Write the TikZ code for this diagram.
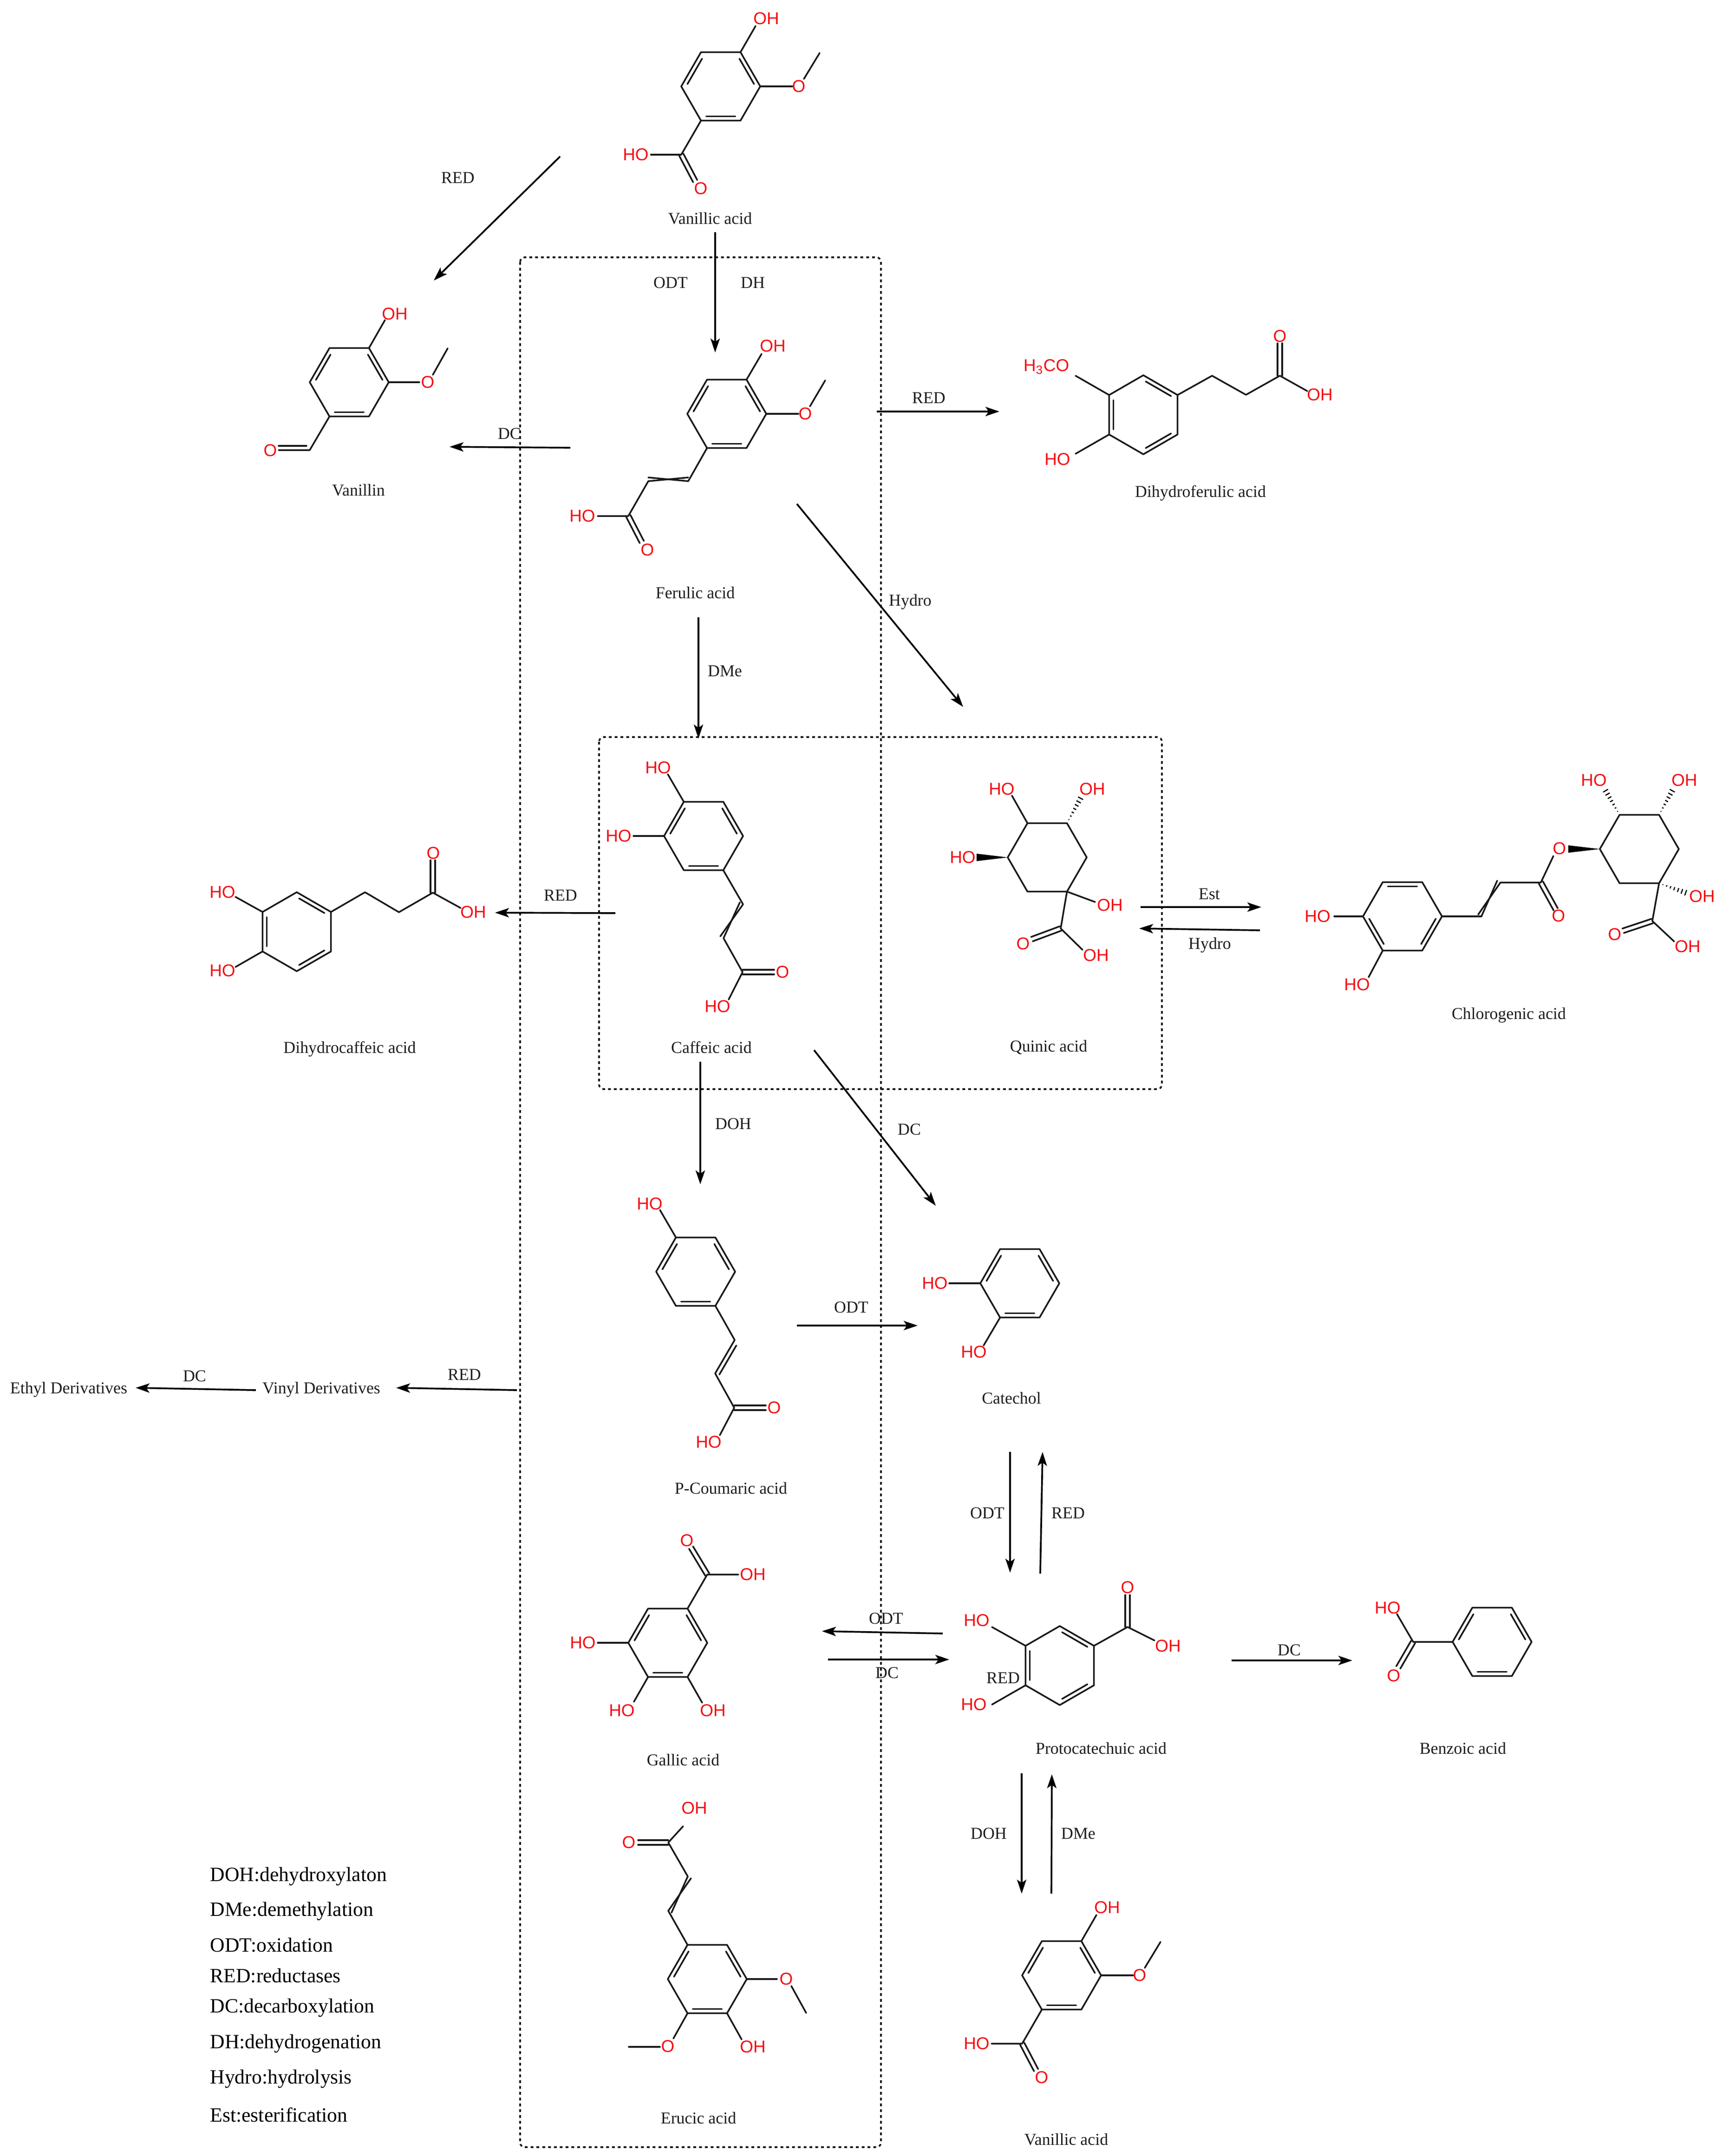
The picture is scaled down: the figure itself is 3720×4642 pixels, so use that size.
\documentclass[tikz,border=0pt]{standalone}
\usepackage{fontspec}
\setmainfont{Liberation Serif}
\newfontfamily\atomfam{Liberation Sans}
\usetikzlibrary{calc,arrows.meta}
\definecolor{atomred}{RGB}{245,15,20}
\definecolor{inkc}{RGB}{30,30,30}
\tikzset{
  bond/.style={line width=1pt,line cap=round,line join=round,draw=black!90},
  rxn/.style={line width=1.05pt,draw=black,-{Stealth[length=0.3cm,width=0.2cm,inset=0.07cm]}},
  dotbox/.style={line width=1.05pt,draw=black!90,dash pattern=on 0.06cm off 0.065cm,rounded corners=0.1cm},
  atom/.style={font=\atomfam\fontsize{10.5}{12}\selectfont,text=atomred,inner sep=0pt},
  cname/.style={font=\fontsize{10.2}{12}\selectfont,text=inkc,inner sep=0pt,text height=7.7pt,text depth=1pt},
  rlabel/.style={font=\fontsize{10.2}{12}\selectfont,text=inkc,inner sep=0pt,text height=7.7pt,text depth=1pt},
  legend/.style={font=\fontsize{12.4}{14}\selectfont,text=black,inner sep=0pt,anchor=base west}
}
% ring: name, centre, rotation
\newcommand\hexa[3]{%
  \foreach \k in {0,...,5}{\coordinate (#1\k) at ($(#2)+(#3+60*\k:0.85cm)$);}
  \draw[bond] (#10)--(#11)--(#12)--(#13)--(#14)--(#15)--cycle;}
% inner lines of the ring's double bonds
\newcommand\rdb[2]{%
  \foreach \e in {#2}{\pgfmathtruncatemacro\nn{mod(\e+1,6)}
  \draw[bond] ($(#1\e)!.13!(#1\nn)!0.09cm!90:(#1\nn)$) -- ($(#1\nn)!.13!(#1\e)!0.09cm!-90:(#1\e)$);}}
% symmetric double bond
\newcommand\sdb[2]{%
  \draw[bond] ($(#1)!0.05cm!90:(#2)$)--($(#2)!0.05cm!-90:(#1)$);
  \draw[bond] ($(#1)!0.05cm!-90:(#2)$)--($(#2)!0.05cm!90:(#1)$);}
% crossed (either) double bond
\newcommand\eith[3]{%
  \draw[bond] (#1)--($(#2)!0.08cm!#3:(#1)$);
  \draw[bond] ($(#1)!0.08cm!-#3:(#2)$)--(#2);}
% plain double bond with offset second line
\newcommand\dbo[2]{%
  \draw[bond] (#1)--(#2);
  \draw[bond] ($(#1)!.1!(#2)!0.09cm!90:(#2)$)--($(#2)!.03!(#1)!0.09cm!-90:(#1)$);}
% solid wedge from narrow end a to wide end b
\newcommand\wedgeb[2]{%
  \fill[black] (#1)--($(#2)!0.08cm!90:(#1)$)--($(#2)!0.08cm!-90:(#1)$)--cycle;}
% hashed wedge
\newcommand\hashb[2]{%
  \foreach \i in {1,...,8}{\pgfmathsetmacro\ff{\i/8}\pgfmathsetmacro\hw{\ff*0.07}
  \draw[line width=0.7pt,draw=black] ($(#1)!\ff!(#2)!\hw cm!90:(#2)$)--($(#1)!\ff!(#2)!\hw cm!-90:(#2)$);}}
% reaction arrow between two named coordinates
\newcommand\rx[3]{%
  \coordinate (#1s) at (#2); \coordinate (#1e) at (#3);
  \draw[rxn] (#1s)--(#1e);}
% vanillic acid structure
\newcommand\vanil[1]{%
  \hexa{#1}{1552,186}{0}\rdb{#1}{0,2,4}
  \draw[bond] (#11)--(1627,56);
  \node[atom] (#1OH) at (1650,40) {OH};
  \draw[bond] (#10)--(1706,186);
  \node[atom] (#1Om) at (1720,186) {O};
  \draw[bond] (1731,170)--(1765,114);
  \coordinate (#1C) at (1467,333);
  \draw[bond] (#14)--(#1C)--(1401,333);
  \node[atom] (#1HO) at (1369,333) {HO};
  \coordinate (#1Oe) at (1497,390);
  \sdb{#1C}{#1Oe}
  \node[atom] (#1Oc) at (1509,406) {O};}
\begin{document}
\begin{tikzpicture}[x=0.01cm,y=-0.01cm]
\useasboundingbox (0,0) rectangle (3720,4642);
\fill[white] (0,0) rectangle (3720,4642);
% dotted boxes
\draw[dotbox] (1120,554) rectangle (1897,4623);
\draw[dotbox] (1290,1587) rectangle (2502,2345);

% ---- Vanillic acid (top)
\vanil{va}
\node[cname] (nva) at (1529,471) {Vanillic acid};

% ---- Vanillic acid (bottom)
\begin{scope}[shift={(734,4067)}]
\vanil{vb}
\end{scope}
\node[cname] (nvb) at (2296,4607) {Vanillic acid};

% ---- Vanillin
\hexa{vn}{752,823}{0}\rdb{vn}{0,2,4}
\draw[bond] (vn1)--(829,689);
\node[atom] (vnOH) at (850,676) {OH};
\draw[bond] (vn0)--(903,823);
\node[atom] (vnO) at (921,823) {O};
\draw[bond] (932,807)--(964,750);
\coordinate (vnC) at (667,969);
\draw[bond] (vn4)--(vnC)--(600,969);
\draw[bond] (660,960)--(600,960);
\node[atom] (vnOc) at (582,970) {O};
\node[cname] (nvn) at (772,1056) {Vanillin};

% ---- Ferulic acid
\hexa{fa}{1565,891}{0}\rdb{fa}{0,2,4}
\draw[bond] (fa1)--(1640,762);
\node[atom] (faOH) at (1664,745) {OH};
\draw[bond] (fa0)--(1719,891);
\node[atom] (faO) at (1734,891) {O};
\draw[bond] (1744,875)--(1777,819);
\coordinate (fa7) at (1482,1036);
\coordinate (fa8) at (1396,1036);
\coordinate (faC) at (1353,1111);
\draw[bond] (fa4)--(fa7);
\eith{fa7}{fa8}{90}
\draw[bond] (fa8)--(faC)--(1287,1111);
\node[atom] (faHO) at (1254,1111) {HO};
\coordinate (faOe) at (1382,1167);
\sdb{faC}{faOe}
\node[atom] (faOc) at (1394,1184) {O};
\node[cname] (nfa) at (1497,1277) {Ferulic acid};

% ---- Dihydroferulic acid
\hexa{df}{2462,893}{30}\rdb{df}{0,2,4}
\draw[bond] (df2)--(2316,809);
\node[atom,anchor=east] (dfMe) at (2303,790) {H\textsubscript{3}CO};
\draw[bond] (df3)--(2316,977);
\node[atom] (dfHO) at (2277,989) {HO};
\coordinate (dfC) at (2756,809);
\draw[bond] (df0)--(2610,809)--(2683,850)--(dfC)--(2815,842);
\coordinate (dfOe) at (2756,739);
\sdb{dfC}{dfOe}
\node[atom] (dfO) at (2756,724) {O};
\node[atom] (dfOH) at (2842,850) {OH};
\node[cname] (ndf) at (2585,1059) {Dihydroferulic acid};

% ---- Caffeic acid
\hexa{ca}{1515,1800}{0}\rdb{ca}{0,2,4}
\draw[bond] (ca2)--(1438,1667);
\node[atom] (caHOa) at (1417,1653) {HO};
\draw[bond] (ca3)--(1364,1800);
\node[atom] (caHOb) at (1332,1800) {HO};
\coordinate (ca7) at (1600,1947);
\coordinate (ca8) at (1558,2020);
\coordinate (caC) at (1599,2093);
\draw[bond] (ca5)--(ca7);
\eith{ca7}{ca8}{90}
\draw[bond] (ca8)--(caC)--(1569,2152);
\coordinate (caOe) at (1667,2093);
\sdb{caC}{caOe}
\node[atom] (caO) at (1685,2093) {O};
\node[atom] (caHO) at (1545,2167) {HO};
\node[cname] (nca) at (1532,2256) {Caffeic acid};

% ---- Dihydrocaffeic acid
\hexa{dc}{639,2006}{30}\rdb{dc}{0,2,4}
\draw[bond] (dc2)--(507,1931);
\node[atom] (dcHOa) at (479,1921) {HO};
\draw[bond] (dc3)--(507,2082);
\node[atom] (dcHOb) at (479,2090) {HO};
\coordinate (dcC) at (932,1922);
\draw[bond] (dc0)--(786,1921)--(859,1964)--(dcC)--(992,1955);
\coordinate (dcOe) at (932,1852);
\sdb{dcC}{dcOe}
\node[atom] (dcO) at (933,1837) {O};
\node[atom] (dcOH) at (1019,1964) {OH};
\node[cname] (ndc) at (753,2256) {Dihydrocaffeic acid};

% ---- Quinic acid
\hexa{qa}{2255,1846}{0}
\draw[bond] (qa2)--(2179,1713);
\node[atom] (qaHOa) at (2157,1699) {HO};
\hashb{qa1}{2331,1711}
\node[atom] (qaOHa) at (2352,1699) {OH};
\wedgeb{qa3}{2103,1846}
\node[atom] (qaHOb) at (2073,1846) {HO};
\draw[bond] (qa5)--(2358,1942);
\node[atom] (qaOHb) at (2390,1949) {OH};
\coordinate (qaC) at (2284,1999);
\coordinate (qaOe) at (2222,2022);
\draw[bond] (qa5)--(qaC)--(2331,2045);
\sdb{qaC}{qaOe}
\node[atom] (qaO) at (2203,2032) {O};
\node[atom] (qaOHc) at (2360,2057) {OH};
\node[cname] (nqa) at (2258,2253) {Quinic acid};

% ---- Chlorogenic acid
\hexa{cl}{3020,1973}{0}\rdb{cl}{1,3,5}
\draw[bond] (cl3)--(2873,1973);
\node[atom] (clHOa) at (2837,1973) {HO};
\draw[bond] (cl4)--(2947,2104);
\node[atom] (clHOb) at (2922,2120) {HO};
\coordinate (cl7) at (3190,1973);
\coordinate (cl8) at (3231,1900);
\coordinate (clE) at (3318,1900);
\draw[bond] (cl0)--(cl7);
\eith{cl7}{cl8}{-90}
\draw[bond] (cl8)--(clE)--(3345,1843);
\coordinate (clEe) at (3350,1958);
\sdb{clE}{clEe}
\node[atom] (clOc) at (3356,1972) {O};
\node[atom] (clOe) at (3358,1827) {O};
\hexa{cr}{3530,1828}{0}
\wedgeb{cr3}{3377,1828}
\hashb{cr2}{3453,1695}
\node[atom] (crHOa) at (3432,1680) {HO};
\hashb{cr1}{3605,1695}
\node[atom] (crOHa) at (3627,1680) {OH};
\hashb{cr5}{3638,1925}
\node[atom] (crOHb) at (3665,1930) {OH};
\coordinate (crC) at (3558,1983);
\coordinate (crOe) at (3495,2004);
\draw[bond] (cr5)--(crC)--(3605,2027);
\sdb{crC}{crOe}
\node[atom] (crO) at (3477,2012) {O};
\node[atom] (crOHc) at (3634,2038) {OH};
\node[cname] (ncl) at (3249,2183) {Chlorogenic acid};

% ---- P-Coumaric acid
\hexa{pc}{1498,2738}{0}\rdb{pc}{0,2,4}
\draw[bond] (pc2)--(1421,2605);
\node[atom] (pcHOa) at (1399,2592) {HO};
\coordinate (pc7) at (1582,2885);
\coordinate (pc8) at (1540,2957);
\coordinate (pcC) at (1581,3031);
\draw[bond] (pc5)--(pc7);
\dbo{pc7}{pc8}
\draw[bond] (pc8)--(pcC)--(1550,3090);
\coordinate (pcOe) at (1649,3031);
\sdb{pcC}{pcOe}
\node[atom] (pcO) at (1667,3031) {O};
\node[atom] (pcHO) at (1526,3105) {HO};
\node[cname] (npc) at (1574,3205) {P-Coumaric acid};

% ---- Catechol
\hexa{ct}{2196,2763}{0}\rdb{ct}{0,2,4}
\draw[bond] (ct3)--(2044,2763);
\node[atom] (ctHOa) at (2013,2763) {HO};
\draw[bond] (ct4)--(2118,2897);
\node[atom] (ctHOb) at (2097,2911) {HO};
\node[cname] (nct) at (2178,3011) {Catechol};

% ---- Gallic acid
\hexa{ga}{1438,3537}{0}\rdb{ga}{0,2,4}
\coordinate (gaC) at (1523,3390);
\coordinate (gaOe) at (1488,3332);
\draw[bond] (ga1)--(gaC)--(1590,3390);
\sdb{gaC}{gaOe}
\node[atom] (gaO) at (1479,3317) {O};
\node[atom] (gaOH) at (1621,3390) {OH};
\draw[bond] (ga3)--(1287,3537);
\node[atom] (gaHOa) at (1255,3537) {HO};
\draw[bond] (ga4)--(1365,3664);
\node[atom] (gaHOb) at (1339,3683) {HO};
\draw[bond] (ga5)--(1512,3666);
\node[atom] (gaOHb) at (1535,3683) {OH};
\node[cname] (nga) at (1471,3790) {Gallic acid};

% ---- Erucic acid
\hexa{er}{1523,4261}{0}\rdb{er}{0,2,4}
\draw[bond] (er0)--(1673,4261);
\node[atom] (erOa) at (1693,4261) {O};
\draw[bond] (1704,4276)--(1736,4334);
\draw[bond] (er4)--(1450,4389);
\node[atom] (erOb) at (1438,4406) {O};
\draw[bond] (1421,4407)--(1354,4407);
\draw[bond] (er5)--(1597,4391);
\node[atom] (erOH) at (1621,4407) {OH};
\coordinate (er7) at (1439,4114);
\coordinate (er8) at (1481,4040);
\coordinate (erC) at (1439,3967);
\draw[bond] (er2)--(er7);
\eith{er7}{er8}{90}
\draw[bond] (er8)--(erC)--(1471,3932);
\coordinate (erOe) at (1374,3967);
\sdb{erC}{erOe}
\node[atom] (erO) at (1354,3967) {O};
\node[atom] (erOHc) at (1495,3893) {OH};
\node[cname] (ner) at (1504,4561) {Erucic acid};

% ---- Protocatechuic acid
\hexa{pr}{2282,3586}{30}\rdb{pr}{0,2,4}
\draw[bond] (pr2)--(2136,3503);
\node[atom] (prHOa) at (2103,3489) {HO};
\draw[bond] (pr3)--(2136,3670);
\node[atom] (prHOb) at (2097,3670) {HO};
\coordinate (prC) at (2428,3503);
\coordinate (prOe) at (2428,3434);
\draw[bond] (pr0)--(prC)--(2486,3532);
\sdb{prC}{prOe}
\node[atom] (prO) at (2428,3418) {O};
\node[atom] (prOH) at (2515,3544) {OH};
\node[rlabel] (lpr) at (2160,3613) {RED};
\node[cname] (npr) at (2371,3765) {Protocatechuic acid};

% ---- Benzoic acid
\hexa{bz}{3213,3535}{0}\rdb{bz}{0,2,4}
\coordinate (bzC) at (3043,3535);
\coordinate (bzOe) at (3011,3590);
\draw[bond] (bz3)--(bzC)--(3008,3475);
\sdb{bzC}{bzOe}
\node[atom] (bzHO) at (2988,3462) {HO};
\node[atom] (bzO) at (3001,3608) {O};
\node[cname] (nbz) at (3150,3765) {Benzoic acid};

% ---- Derivatives
\node[cname] (nvd) at (692,2989) {Vinyl Derivatives};
\node[cname] (ned) at (148,2989) {Ethyl Derivatives};

% ---- Reaction arrows
\rx{a}{1540,500}{1540,759}
\rx{b}{1206,337}{934,604}
\rx{c}{1228,964}{968,962}
\rx{d}{1888,886}{2152,886}
\rx{e}{1716,1085}{2074,1522}
\rx{f}{1504,1329}{1504,1590}
\rx{g}{1325,1966}{1066,1965}
\rx{h}{2456,1953}{2716,1953}
\rx{i}{2713,2003}{2453,1999}
\rx{j}{1508,2286}{1508,2550}
\rx{k}{1753,2261}{2015,2596}
\rx{l}{1716,2854}{1976,2854}
\rx{m}{1113,2993}{853,2988}
\rx{n}{551,2993}{292,2988}
\rx{o}{2175,3126}{2175,3386}
\rx{p}{2240,3388}{2245,3126}
\rx{q}{2030,3517}{1770,3512}
\rx{r}{1783,3573}{2044,3573}
\rx{s}{2652,3575}{2912,3575}
\rx{t}{2200,3818}{2200,4077}
\rx{u}{2264,4077}{2265,3820}

% ---- Arrow labels
\node[rlabel] (la1) at (1444,609) {ODT};
\node[rlabel] (la2) at (1621,609) {DH};
\node[rlabel] (lb) at (986,383) {RED};
\node[rlabel] (lc) at (1097,934) {DC};
\node[rlabel] (ld) at (2000,857) {RED};
\node[rlabel] (le) at (1960,1293) {Hydro};
\node[rlabel] (lf) at (1561,1445) {DMe};
\node[rlabel] (lg) at (1207,1928) {RED};
\node[rlabel] (lh) at (2604,1925) {Est};
\node[rlabel] (li) at (2605,2032) {Hydro};
\node[rlabel] (lj) at (1579,2420) {DOH};
\node[rlabel] (lk) at (1958,2432) {DC};
\node[rlabel] (ll) at (1833,2815) {ODT};
\node[rlabel] (lm) at (1000,2960) {RED};
\node[rlabel] (ln) at (419,2963) {DC};
\node[rlabel] (lo) at (2126,3258) {ODT};
\node[rlabel] (lp) at (2300,3258) {RED};
\node[rlabel] (lq) at (1908,3485) {ODT};
\node[rlabel] (lr) at (1910,3602) {DC};
\node[rlabel] (ls) at (2776,3553) {DC};
\node[rlabel] (lt) at (2129,3948) {DOH};
\node[rlabel] (lu) at (2322,3948) {DMe};

% ---- Legend
\node[legend] (k1) at (452,4050) {DOH:dehydroxylaton};
\node[legend] (k2) at (452,4125) {DMe:demethylation};
\node[legend] (k3) at (452,4202) {ODT:oxidation};
\node[legend] (k4) at (452,4268) {RED:reductases};
\node[legend] (k5) at (452,4333) {DC:decarboxylation};
\node[legend] (k6) at (452,4410) {DH:dehydrogenation};
\node[legend] (k7) at (452,4486) {Hydro:hydrolysis};
\node[legend] (k8) at (452,4568) {Est:esterification};
\end{tikzpicture}
\end{document}
